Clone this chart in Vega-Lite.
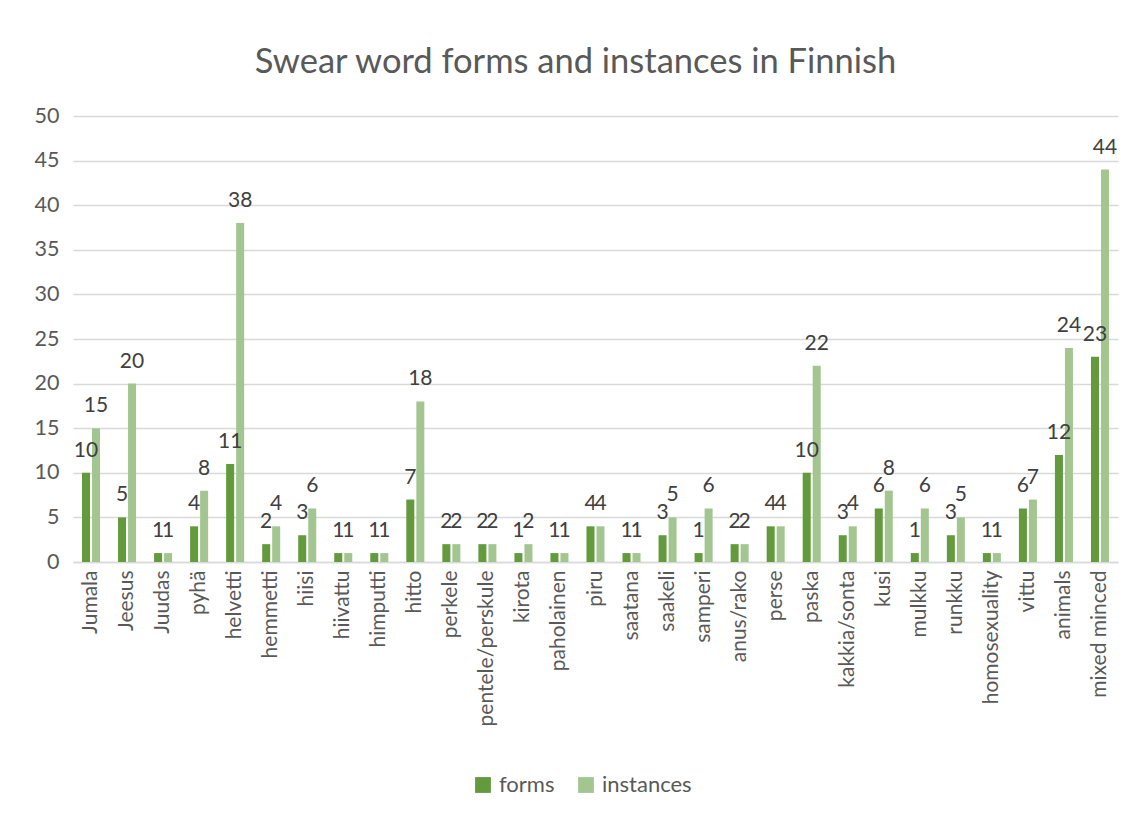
{
  "$schema": "https://vega.github.io/schema/vega-lite/v6.json",
  "width": 1045,
  "height": 446,
  "autosize": {"type": "none"},
  "padding": {"left": 73, "top": 116, "right": 14, "bottom": 252},
  "background": "white",
  "title": {
    "text": "Swear word forms and instances in Finnish",
    "fontSize": 34.5,
    "font": "Lato",
    "fontWeight": "normal",
    "color": "#595959",
    "anchor": "middle",
    "dx": -20,
    "offset": 25
  },
  "data": {
    "values": [
      {"word": "Jumala", "series": "forms", "value": 10}, {"word": "Jumala", "series": "instances", "value": 15},
      {"word": "Jeesus", "series": "forms", "value": 5}, {"word": "Jeesus", "series": "instances", "value": 20},
      {"word": "Juudas", "series": "forms", "value": 1}, {"word": "Juudas", "series": "instances", "value": 1},
      {"word": "pyhä", "series": "forms", "value": 4}, {"word": "pyhä", "series": "instances", "value": 8},
      {"word": "helvetti", "series": "forms", "value": 11}, {"word": "helvetti", "series": "instances", "value": 38},
      {"word": "hemmetti", "series": "forms", "value": 2}, {"word": "hemmetti", "series": "instances", "value": 4},
      {"word": "hiisi", "series": "forms", "value": 3}, {"word": "hiisi", "series": "instances", "value": 6},
      {"word": "hiivattu", "series": "forms", "value": 1}, {"word": "hiivattu", "series": "instances", "value": 1},
      {"word": "himputti", "series": "forms", "value": 1}, {"word": "himputti", "series": "instances", "value": 1},
      {"word": "hitto", "series": "forms", "value": 7}, {"word": "hitto", "series": "instances", "value": 18},
      {"word": "perkele", "series": "forms", "value": 2}, {"word": "perkele", "series": "instances", "value": 2},
      {"word": "pentele/perskule", "series": "forms", "value": 2}, {"word": "pentele/perskule", "series": "instances", "value": 2},
      {"word": "kirota", "series": "forms", "value": 1}, {"word": "kirota", "series": "instances", "value": 2},
      {"word": "paholainen", "series": "forms", "value": 1}, {"word": "paholainen", "series": "instances", "value": 1},
      {"word": "piru", "series": "forms", "value": 4}, {"word": "piru", "series": "instances", "value": 4},
      {"word": "saatana", "series": "forms", "value": 1}, {"word": "saatana", "series": "instances", "value": 1},
      {"word": "saakeli", "series": "forms", "value": 3}, {"word": "saakeli", "series": "instances", "value": 5},
      {"word": "samperi", "series": "forms", "value": 1}, {"word": "samperi", "series": "instances", "value": 6},
      {"word": "anus/rako", "series": "forms", "value": 2}, {"word": "anus/rako", "series": "instances", "value": 2},
      {"word": "perse", "series": "forms", "value": 4}, {"word": "perse", "series": "instances", "value": 4},
      {"word": "paska", "series": "forms", "value": 10}, {"word": "paska", "series": "instances", "value": 22},
      {"word": "kakkia/sonta", "series": "forms", "value": 3}, {"word": "kakkia/sonta", "series": "instances", "value": 4},
      {"word": "kusi", "series": "forms", "value": 6}, {"word": "kusi", "series": "instances", "value": 8},
      {"word": "mulkku", "series": "forms", "value": 1}, {"word": "mulkku", "series": "instances", "value": 6},
      {"word": "runkku", "series": "forms", "value": 3}, {"word": "runkku", "series": "instances", "value": 5},
      {"word": "homosexuality", "series": "forms", "value": 1}, {"word": "homosexuality", "series": "instances", "value": 1},
      {"word": "vittu", "series": "forms", "value": 6}, {"word": "vittu", "series": "instances", "value": 7},
      {"word": "animals", "series": "forms", "value": 12}, {"word": "animals", "series": "instances", "value": 24},
      {"word": "mixed minced", "series": "forms", "value": 23}, {"word": "mixed minced", "series": "instances", "value": 44}
    ]
  },
  "encoding": {
    "x": {
      "field": "word",
      "type": "nominal",
      "sort": null,
      "title": null,
      "scale": {"paddingInner": 0.5, "paddingOuter": 0.25},
      "axis": {
        "labelAngle": -90,
        "labelAlign": "right",
        "labelBaseline": "middle",
        "labelFontSize": 21,
        "labelFont": "Lato",
        "labelColor": "#595959",
        "labelPadding": 8,
        "ticks": false,
        "domainColor": "#d9d9d9",
        "domainWidth": 1.5,
        "grid": false
      }
    },
    "xOffset": {"field": "series", "type": "nominal", "scale": {"paddingInner": 0.2, "paddingOuter": 0}},
    "y": {
      "field": "value",
      "type": "quantitative",
      "title": null,
      "scale": {"domain": [0, 50]},
      "axis": {
        "values": [0, 5, 10, 15, 20, 25, 30, 35, 40, 45, 50],
        "labelFontSize": 21.5,
        "labelFont": "Lato",
        "labelColor": "#595959",
        "labelPadding": 14,
        "ticks": false,
        "domain": false,
        "gridColor": "#d9d9d9",
        "gridWidth": 1.5
      }
    }
  },
  "layer": [
    {
      "mark": {"type": "bar"},
      "encoding": {
        "color": {
          "field": "series",
          "type": "nominal",
          "scale": {"domain": ["forms", "instances"], "range": ["#629a3c", "#a3c690"]},
          "legend": {
            "title": null,
            "orient": "none",
            "legendX": 399,
            "legendY": 658,
            "direction": "horizontal",
            "symbolType": "square",
            "symbolSize": 250,
            "symbolStrokeWidth": 0,
            "labelFontSize": 22,
            "labelFont": "Lato",
            "labelColor": "#595959",
            "labelOffset": 5,
            "columnPadding": 20
          }
        }
      }
    },
    {
      "mark": {"type": "text", "baseline": "bottom", "dy": -12, "fontSize": 21, "font": "Lato", "color": "#404040"},
      "encoding": {"text": {"field": "value", "type": "quantitative"}}
    }
  ],
  "config": {"view": {"stroke": null}}
}
